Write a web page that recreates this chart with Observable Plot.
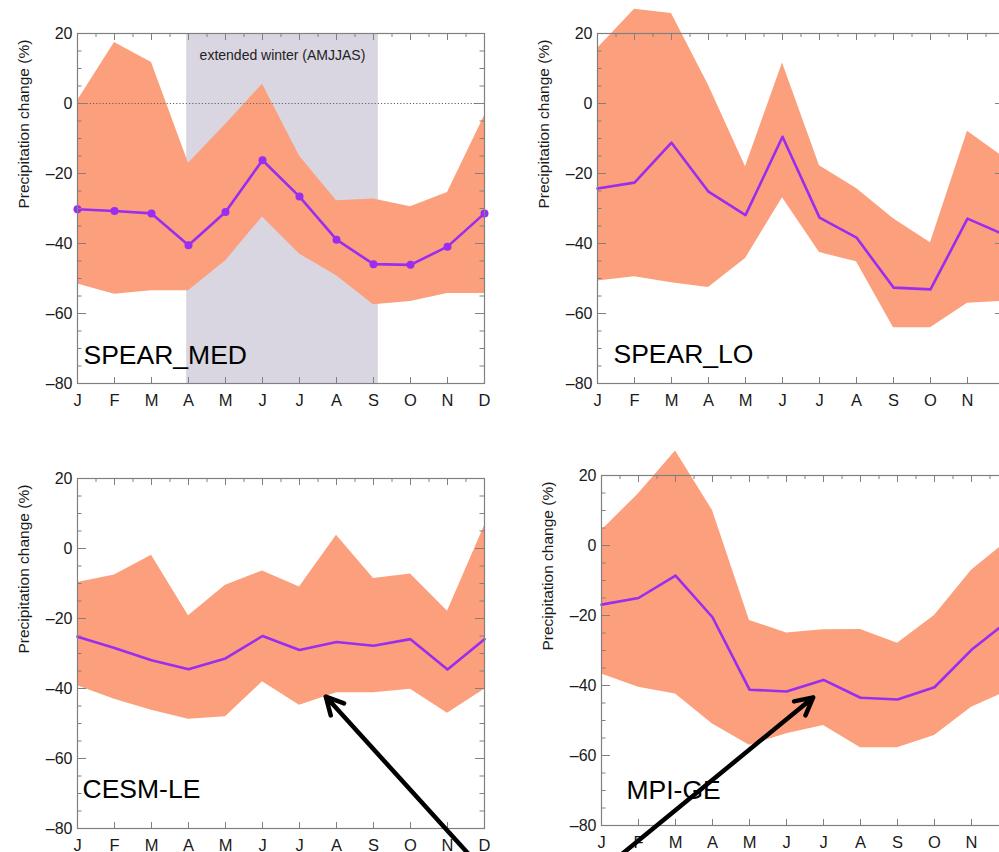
<!DOCTYPE html>
<html><head><meta charset="utf-8">
<script src="https://cdn.jsdelivr.net/npm/d3@7"></script>
<script src="https://cdn.jsdelivr.net/npm/@observablehq/plot@0.6"></script>
<style>
html,body{margin:0;padding:0;background:#fff;overflow:hidden;}
#chart{position:relative;width:999px;height:852px;overflow:hidden;background:#fff;}
#chart svg{position:absolute;}
</style></head><body><div id="chart"></div>
<script>
// ---------- data ----------
const months = [1,2,3,4,5,6,7,8,9,10,11,12];
const monthLabels = ["J","F","M","A","M","J","J","A","S","O","N","D"];
const yTickLabels = [20,0,-20,-40,-60,-80];
const yMinorTicks = [15,10,5,-5,-10,-15,-25,-30,-35,-45,-50,-55,-65,-70,-75];
const halfMonths = [1.5,2.5,3.5,4.5,5.5,6.5,7.5,8.5,9.5,10.5,11.5];

const spearMedMean = [-30.2,-30.7,-31.4,-40.5,-31.0,-16.2,-26.6,-38.9,-45.9,-46.1,-40.9,-31.4];
const spearMedHi   = [0.8,17.4,11.7,-17.1,-6.0,5.5,-15.0,-27.8,-27.3,-29.5,-25.4,-3.5];
const spearMedLo   = [-51.6,-54.5,-53.5,-53.5,-45.0,-32.4,-43.0,-49.2,-57.5,-56.6,-54.3,-54.3];

const spearLoMean = [-24.3,-22.6,-11.2,-25.2,-31.9,-9.5,-32.6,-38.3,-52.6,-53.1,-32.9,-37.5];
const spearLoHi   = [15.7,26.9,25.7,5.2,-18.1,11.6,-17.8,-24.3,-32.9,-39.8,-7.9,-15.5];
const spearLoLo   = [-50.7,-49.5,-51.2,-52.6,-44.3,-26.9,-42.6,-45.2,-64.1,-64.1,-57.1,-56.5];

const cesmMean = [-25.2,-28.4,-31.9,-34.5,-31.4,-25.0,-29.0,-26.7,-27.8,-25.9,-34.6,-25.9];
const cesmHi   = [-9.7,-7.6,-1.9,-19.2,-10.5,-6.4,-11.0,3.8,-8.6,-7.3,-17.9,6.5];
const cesmLo   = [-39.2,-43.1,-46.2,-48.8,-48.1,-38.1,-44.8,-41.2,-41.2,-40.2,-47.1,-40.2];

const mpiMean = [-16.9,-15.0,-8.6,-20.5,-41.2,-41.7,-38.4,-43.5,-44.0,-40.5,-29.8,-21.5];
const mpiHi   = [4.3,14.8,27.0,10.0,-21.4,-25.0,-24.1,-24.0,-27.9,-20.0,-7.1,1.5];
const mpiLo   = [-36.7,-40.5,-42.4,-51.0,-57.1,-53.8,-51.4,-57.8,-57.8,-54.3,-46.2,-41.5];

const modelNames = ["SPEAR_MED","SPEAR_LO","CESM-LE","MPI-GE"];
const winterSpan = [3.95, 9.13];
const winterLabel = "extended winter (AMJJAS)";
const yTitle = "Precipitation change (%)";
// arrows: [tailMonth, tailValue, tipMonth, tipValue]
const arrowCesm = [11.94, -91.6, 7.71, -42.3];
const arrowMpi  = [1.04, -92.6, 6.72, -43.4];

// ---------- layout ----------
const FONT = "'Liberation Sans', Arial, Helvetica, sans-serif";
const frameW = 407, frameH = 350;
const mL = 77, mR = 20, mT = 40, mB = 50;
const BAND = "#fc9f7c", PURPLE = "#9a2df0", SHADE = "#d9d6e1", AXC = "#808080", TXT = "#1a1a1a";

const panels = [
  {name: modelNames[0], mean: spearMedMean, hi: spearMedHi, lo: spearMedLo, left: 0,   top: -7,  lx: 6,  ly: -28, dots: true, winter: true},
  {name: modelNames[1], mean: spearLoMean,  hi: spearLoHi,  lo: spearLoLo,  left: 520, top: -7,  lx: 16, ly: -29},
  {name: modelNames[2], mean: cesmMean,     hi: cesmHi,     lo: cesmLo,     left: 0,   top: 438, lx: 5,  ly: -39, arrow: arrowCesm},
  {name: modelNames[3], mean: mpiMean,      hi: mpiHi,      lo: mpiLo,      left: 524, top: 435, lx: 25, ly: -35, arrow: arrowMpi}
];

const chart = document.getElementById("chart");

for (const p of panels) {
  const data = months.map((m, i) => ({month: m, mean: p.mean[i], hi: p.hi[i], lo: p.lo[i]}));
  const marks = [];
  if (p.winter) {
    marks.push(Plot.rect([winterSpan], {x1: d => d[0], x2: d => d[1], fill: SHADE}));
  }
  marks.push(Plot.areaY(data, {x: "month", y1: "lo", y2: "hi", fill: BAND}));
  if (p.winter) {
    marks.push(Plot.ruleY([0], {stroke: "#666", strokeWidth: 1, strokeDasharray: "1.2,2"}));
  }
  marks.push(Plot.line(data, {x: "month", y: "mean", stroke: PURPLE, strokeWidth: 2.6}));
  if (p.dots) {
    marks.push(Plot.dot(data, {x: "month", y: "mean", r: 4, fill: PURPLE}));
  }
  if (p.winter) {
    marks.push(Plot.text([winterLabel], {x: (winterSpan[0] + winterSpan[1]) / 2, frameAnchor: "top", lineAnchor: "middle", dy: 22, fontSize: 14, fill: "#222"}));
  }
  // panel name
  marks.push(Plot.text([p.name], {frameAnchor: "bottom-left", textAnchor: "start", lineAnchor: "middle", dx: p.lx, dy: p.ly, fontSize: 26.5, fill: "#000"}));
  // y title
  marks.push(Plot.text([yTitle], {frameAnchor: "left", rotate: -90, dx: -53, fontSize: 15.5, fill: TXT}));
  // frame
  marks.push(Plot.frame({stroke: AXC, strokeWidth: 1.2}));
  // inward ticks: y left/right
  marks.push(Plot.ruleY(yTickLabels, {y: d => d, insetRight: frameW - 9, stroke: AXC}));
  marks.push(Plot.ruleY(yMinorTicks, {y: d => d, insetRight: frameW - 4.5, stroke: AXC}));
  marks.push(Plot.ruleY(yTickLabels, {y: d => d, insetLeft: frameW - 9, stroke: AXC}));
  marks.push(Plot.ruleY(yMinorTicks, {y: d => d, insetLeft: frameW - 4.5, stroke: AXC}));
  // x ticks bottom and top
  marks.push(Plot.ruleX(months, {x: d => d, insetTop: frameH - 6, stroke: AXC}));
  marks.push(Plot.ruleX(months, {x: d => d, insetBottom: frameH - 7, stroke: AXC}));
  marks.push(Plot.ruleX(halfMonths, {x: d => d, insetBottom: frameH - 4, stroke: AXC}));
  // axis labels
  marks.push(Plot.axisY({ticks: yTickLabels, tickSize: 0, tickPadding: 5, fontSize: 16, fill: TXT,
    tickFormat: d => d < 0 ? "\u2013" + (-d) : String(d), label: null}));
  marks.push(Plot.axisX({ticks: months, tickSize: 0, tickPadding: 11, fontSize: 16.5, fill: TXT,
    tickFormat: d => monthLabels[d - 1], label: null}));
  if (p.arrow) {
    const a = p.arrow;
    marks.push(Plot.arrow([a], {x1: d => d[0], y1: d => d[1], x2: d => d[2], y2: d => d[3],
      stroke: "#000", strokeWidth: 4.5, headLength: 6.5, headAngle: 55}));
  }

  const svg = Plot.plot({
    width: mL + frameW + mR,
    height: mT + frameH + mB,
    marginLeft: mL, marginRight: mR, marginTop: mT, marginBottom: mB,
    x: {domain: [1, 12]},
    y: {domain: [-80, 20]},
    style: {fontFamily: FONT, background: "transparent", overflow: "visible"},
    marks
  });
  svg.style.left = p.left + "px";
  svg.style.top = p.top + "px";
  chart.appendChild(svg);
}
</script></body></html>
